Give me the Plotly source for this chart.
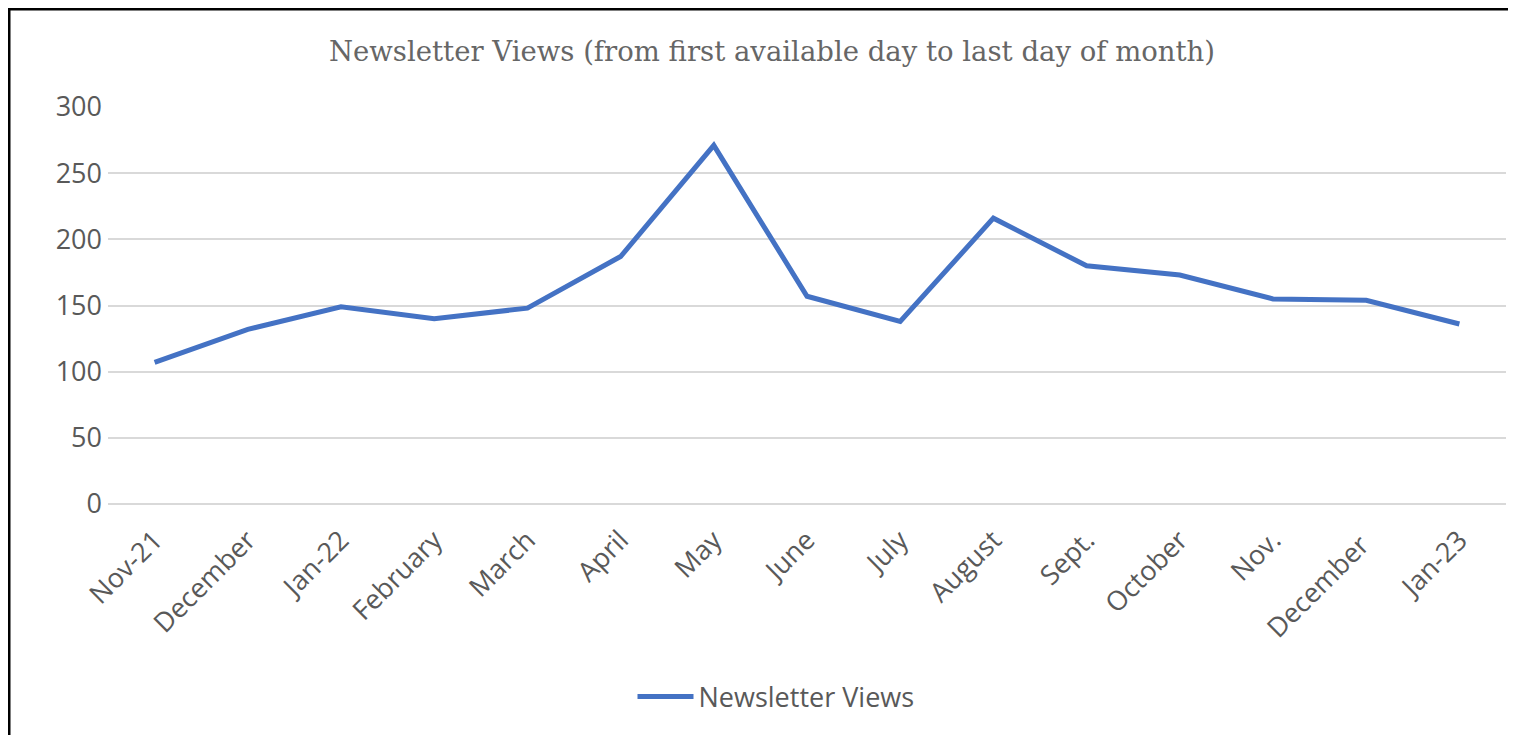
import plotly.graph_objects as go

categories = ["Nov-21", "December", "Jan-22", "February", "March", "April", "May",
              "June", "July", "August", "Sept.", "October", "Nov.", "December ", "Jan-23"]
views = [107, 132, 149, 140, 148, 187, 271, 157, 138, 216, 180, 173, 155, 154, 136]
y_ticks = [0, 50, 100, 150, 200, 250, 300]

W, H = 1516, 735
OFF = 8  # page body margin offset
# desired plot area in viewport pixels: x 108..1506, y 107..504
L, T = 108 - OFF, 107 - OFF
R = W - (1506 - OFF)
B = H - (504 - OFF)
pw, ph = W - L - R, H - T - B

def px_x(p):
    return (p - OFF - L) / pw

def px_y(p):
    return (H - B - (p - OFF)) / ph

fig = go.Figure()
fig.add_trace(go.Scatter(
    x=categories, y=views, mode="lines", name="Newsletter Views",
    line=dict(color="#4472C4", width=5),
))

fig.update_layout(
    width=W, height=H,
    margin=dict(l=L, r=R, t=T, b=B),
    paper_bgcolor="white", plot_bgcolor="white",
    title=dict(text="Newsletter Views (from first available day to last day of month)",
               font=dict(family="DejaVu Serif", size=27.5, color="#666666"),
               x=(772 - OFF) / W, xanchor="center", xref="container",
               y=1 - (51 - OFF) / H, yanchor="middle", yref="container"),
    showlegend=True,
    legend=dict(orientation="h", x=px_x(776), xanchor="center", y=px_y(697), yanchor="middle",
                font=dict(family="Open Sans", size=27, color="#595959"),
                itemwidth=56),
    xaxis=dict(type="category", range=[-0.5, len(categories) - 0.5], tickangle=-45,
               showgrid=False, showline=False,
               tickfont=dict(family="Open Sans", size=27, color="#595959"),
               ticks="", ticklabelstandoff=14),
    yaxis=dict(range=[0, 300], tickvals=y_ticks, showgrid=True, gridcolor="#D9D9D9",
               gridwidth=1.5, zeroline=True, zerolinecolor="#D9D9D9", zerolinewidth=1.5,
               showline=False, ticks="",
               tickfont=dict(family="Open Sans", size=27, color="#595959"),
               ticklabelstandoff=5),
)

# chart border (top and left edges visible in reference)
fig.add_shape(type="line", xref="paper", yref="paper",
              x0=px_x(8), x1=px_x(W + 20), y0=px_y(9), y1=px_y(9),
              line=dict(color="black", width=3))
fig.add_shape(type="line", xref="paper", yref="paper",
              x0=px_x(9), x1=px_x(9), y0=px_y(8), y1=px_y(H + 20),
              line=dict(color="black", width=3))

fig.write_html("out.html")
